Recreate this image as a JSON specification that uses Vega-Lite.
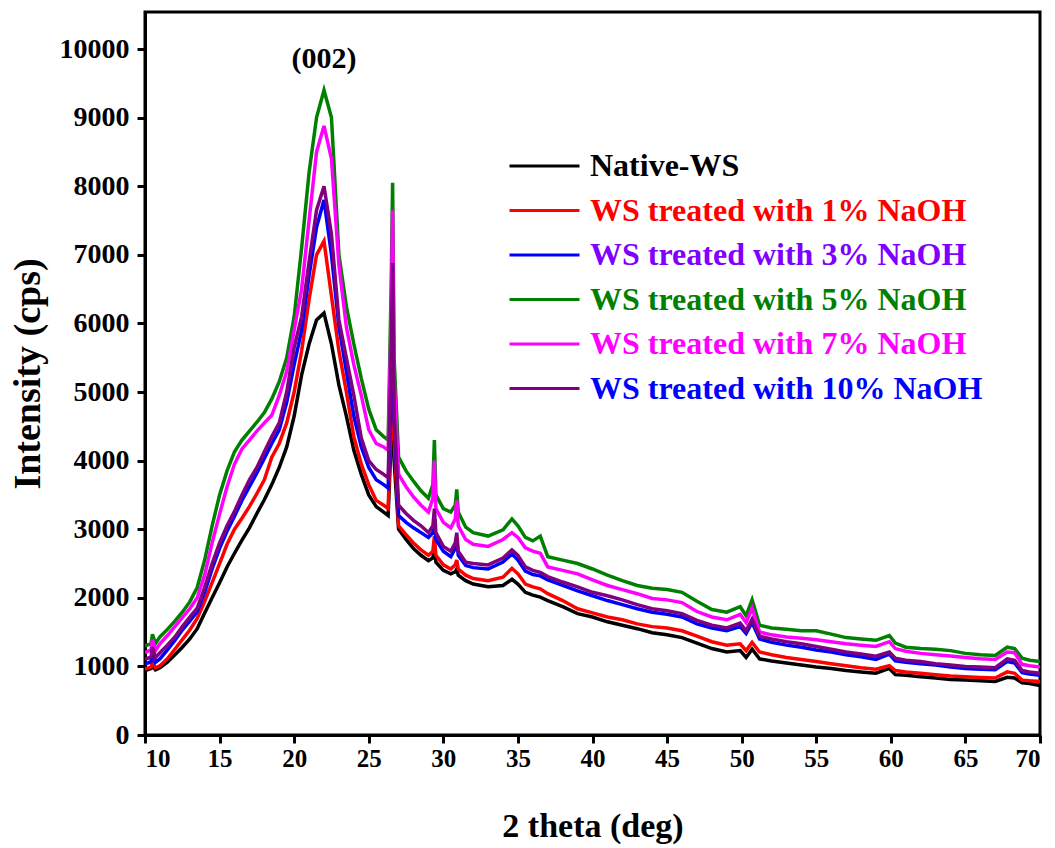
{
  "$schema": "https://vega.github.io/schema/vega-lite/v6.json",
  "width": 895,
  "height": 723,
  "autosize": {"type": "none"},
  "padding": {"left": 145, "top": 12, "right": 15, "bottom": 113},
  "background": "white",
  "config": {
    "view": {"stroke": "black", "strokeWidth": 3},
    "font": "Liberation Serif"
  },
  "layer": [
    {
      "data": {
        "values": [
          {"x": 10, "a": 940, "b": 960, "c": 1030, "d": 1300, "e": 1200, "f": 1100},
          {"x": 10.4, "a": 970, "b": 990, "c": 1070, "d": 1330, "e": 1240, "f": 1140},
          {"x": 10.5, "a": 1000, "b": 1060, "c": 1200, "d": 1470, "e": 1390, "f": 1280},
          {"x": 10.7, "a": 950, "b": 980, "c": 1060, "d": 1330, "e": 1230, "f": 1130},
          {"x": 11, "a": 980, "b": 1010, "c": 1110, "d": 1430, "e": 1330, "f": 1200},
          {"x": 11.5, "a": 1060, "b": 1110, "c": 1240, "d": 1540, "e": 1450, "f": 1310},
          {"x": 12, "a": 1170, "b": 1250, "c": 1380, "d": 1660, "e": 1580, "f": 1430},
          {"x": 12.5, "a": 1280, "b": 1390, "c": 1530, "d": 1790, "e": 1710, "f": 1580},
          {"x": 13, "a": 1400, "b": 1530, "c": 1660, "d": 1940, "e": 1840, "f": 1720},
          {"x": 13.5, "a": 1550, "b": 1700, "c": 1800, "d": 2150, "e": 2000, "f": 1850},
          {"x": 14, "a": 1780, "b": 1950, "c": 2080, "d": 2550, "e": 2330, "f": 2150},
          {"x": 14.5, "a": 2000, "b": 2220, "c": 2420, "d": 3050, "e": 2800, "f": 2500},
          {"x": 15, "a": 2220, "b": 2500, "c": 2720, "d": 3500, "e": 3220, "f": 2800},
          {"x": 15.5, "a": 2450, "b": 2780, "c": 2970, "d": 3850, "e": 3620, "f": 3050},
          {"x": 16, "a": 2650, "b": 3000, "c": 3190, "d": 4130, "e": 3950, "f": 3260},
          {"x": 16.5, "a": 2840, "b": 3160, "c": 3420, "d": 4300, "e": 4170, "f": 3500},
          {"x": 17, "a": 3020, "b": 3330, "c": 3620, "d": 4430, "e": 4300, "f": 3720},
          {"x": 17.5, "a": 3230, "b": 3520, "c": 3820, "d": 4560, "e": 4430, "f": 3900},
          {"x": 18, "a": 3430, "b": 3720, "c": 4030, "d": 4700, "e": 4550, "f": 4130},
          {"x": 18.5, "a": 3650, "b": 4050, "c": 4250, "d": 4900, "e": 4660, "f": 4350},
          {"x": 19, "a": 3900, "b": 4250, "c": 4450, "d": 5150, "e": 4950, "f": 4550},
          {"x": 19.5, "a": 4200, "b": 4550, "c": 4850, "d": 5500, "e": 5300, "f": 5000},
          {"x": 20, "a": 4650, "b": 5000, "c": 5400, "d": 6100, "e": 5900, "f": 5650},
          {"x": 20.5, "a": 5250, "b": 5600, "c": 5900, "d": 7100, "e": 6500, "f": 6100},
          {"x": 21, "a": 5700, "b": 6350, "c": 6700, "d": 8200, "e": 7500, "f": 6900},
          {"x": 21.5, "a": 6050, "b": 7000, "c": 7400, "d": 9000, "e": 8500, "f": 7650},
          {"x": 22, "a": 6150, "b": 7200, "c": 7800, "d": 9400, "e": 8880, "f": 8000},
          {"x": 22.5, "a": 5700, "b": 6400, "c": 7000, "d": 9000, "e": 8400, "f": 7300},
          {"x": 23, "a": 5100, "b": 5600, "c": 5950, "d": 7000, "e": 6850, "f": 6050},
          {"x": 23.5, "a": 4650, "b": 5000, "c": 5300, "d": 6250, "e": 5950, "f": 5500},
          {"x": 24, "a": 4150, "b": 4350, "c": 4650, "d": 5700, "e": 5400, "f": 4950},
          {"x": 24.5, "a": 3800, "b": 3950, "c": 4200, "d": 5200, "e": 4950, "f": 4330},
          {"x": 25, "a": 3500, "b": 3650, "c": 3900, "d": 4750, "e": 4450, "f": 4000},
          {"x": 25.5, "a": 3330, "b": 3420, "c": 3720, "d": 4450, "e": 4250, "f": 3870},
          {"x": 26, "a": 3250, "b": 3350, "c": 3650, "d": 4350, "e": 4200, "f": 3800},
          {"x": 26.3, "a": 3200, "b": 3300, "c": 3600, "d": 4300, "e": 4150, "f": 3750},
          {"x": 26.5, "a": 4300, "b": 4600, "c": 5000, "d": 6500, "e": 6000, "f": 5500},
          {"x": 26.6, "a": 5500, "b": 6000, "c": 6500, "d": 8050, "e": 7650, "f": 6880},
          {"x": 26.7, "a": 4000, "b": 4300, "c": 4600, "d": 5500, "e": 5200, "f": 4700},
          {"x": 27, "a": 3000, "b": 3050, "c": 3200, "d": 4050, "e": 3800, "f": 3350},
          {"x": 27.5, "a": 2850, "b": 2920, "c": 3100, "d": 3850, "e": 3620, "f": 3230},
          {"x": 28, "a": 2720, "b": 2800, "c": 3020, "d": 3700, "e": 3470, "f": 3130},
          {"x": 28.5, "a": 2620, "b": 2700, "c": 2950, "d": 3560, "e": 3350, "f": 3050},
          {"x": 29, "a": 2540, "b": 2620, "c": 2880, "d": 3450, "e": 3250, "f": 2950},
          {"x": 29.3, "a": 2580, "b": 2680, "c": 2950, "d": 3650, "e": 3450, "f": 3050},
          {"x": 29.4, "a": 2750, "b": 2900, "c": 3150, "d": 4300, "e": 4000, "f": 3300},
          {"x": 29.5, "a": 2520, "b": 2620, "c": 2850, "d": 3500, "e": 3300, "f": 2950},
          {"x": 30, "a": 2400, "b": 2480, "c": 2680, "d": 3300, "e": 3100, "f": 2750},
          {"x": 30.5, "a": 2350, "b": 2420, "c": 2600, "d": 3250, "e": 3020, "f": 2680},
          {"x": 30.8, "a": 2380, "b": 2480, "c": 2720, "d": 3350, "e": 3150, "f": 2800},
          {"x": 30.9, "a": 2420, "b": 2550, "c": 2850, "d": 3580, "e": 3420, "f": 2950},
          {"x": 31, "a": 2330, "b": 2420, "c": 2620, "d": 3250, "e": 3050, "f": 2680},
          {"x": 31.5, "a": 2250, "b": 2330, "c": 2470, "d": 3030, "e": 2850, "f": 2520},
          {"x": 32, "a": 2200, "b": 2280, "c": 2440, "d": 2950, "e": 2780, "f": 2500},
          {"x": 33, "a": 2160, "b": 2250, "c": 2420, "d": 2900, "e": 2750, "f": 2480},
          {"x": 34, "a": 2180, "b": 2300, "c": 2520, "d": 2990, "e": 2850, "f": 2580},
          {"x": 34.6, "a": 2270, "b": 2430, "c": 2640, "d": 3150, "e": 2950, "f": 2700},
          {"x": 35, "a": 2200, "b": 2350, "c": 2550, "d": 3050, "e": 2880, "f": 2620},
          {"x": 35.5, "a": 2080, "b": 2200, "c": 2390, "d": 2880, "e": 2730, "f": 2450},
          {"x": 36, "a": 2040, "b": 2160, "c": 2340, "d": 2830, "e": 2680, "f": 2400},
          {"x": 36.5, "a": 2010, "b": 2130, "c": 2320, "d": 2900, "e": 2650, "f": 2370},
          {"x": 37, "a": 1960, "b": 2060, "c": 2260, "d": 2600, "e": 2450, "f": 2310},
          {"x": 38, "a": 1870, "b": 1960, "c": 2180, "d": 2550, "e": 2400, "f": 2230},
          {"x": 39, "a": 1770, "b": 1840, "c": 2100, "d": 2500, "e": 2350, "f": 2160},
          {"x": 40, "a": 1720, "b": 1780, "c": 2030, "d": 2420, "e": 2260, "f": 2080},
          {"x": 41, "a": 1650, "b": 1720, "c": 1960, "d": 2330, "e": 2180, "f": 2030},
          {"x": 42, "a": 1600, "b": 1680, "c": 1900, "d": 2250, "e": 2120, "f": 1970},
          {"x": 43, "a": 1550, "b": 1620, "c": 1840, "d": 2180, "e": 2060, "f": 1900},
          {"x": 44, "a": 1490, "b": 1580, "c": 1790, "d": 2140, "e": 1990, "f": 1840},
          {"x": 45, "a": 1460, "b": 1560, "c": 1760, "d": 2120, "e": 1970, "f": 1810},
          {"x": 46, "a": 1420, "b": 1520, "c": 1720, "d": 2080, "e": 1930, "f": 1770},
          {"x": 47, "a": 1340, "b": 1440, "c": 1620, "d": 1950, "e": 1800, "f": 1670},
          {"x": 48, "a": 1260, "b": 1360, "c": 1560, "d": 1830, "e": 1720, "f": 1600},
          {"x": 49, "a": 1210, "b": 1310, "c": 1520, "d": 1790, "e": 1680, "f": 1560},
          {"x": 49.9, "a": 1230, "b": 1330, "c": 1580, "d": 1870, "e": 1760, "f": 1630},
          {"x": 50.3, "a": 1130, "b": 1230, "c": 1480, "d": 1740, "e": 1640, "f": 1520},
          {"x": 50.7, "a": 1250, "b": 1350, "c": 1640, "d": 1970, "e": 1850, "f": 1690},
          {"x": 51.2, "a": 1110, "b": 1210, "c": 1400, "d": 1600, "e": 1500, "f": 1440},
          {"x": 52, "a": 1080, "b": 1170, "c": 1350, "d": 1560, "e": 1460, "f": 1400},
          {"x": 53, "a": 1050, "b": 1130, "c": 1310, "d": 1540, "e": 1430, "f": 1360},
          {"x": 54, "a": 1020, "b": 1100, "c": 1280, "d": 1520, "e": 1410, "f": 1330},
          {"x": 55, "a": 990, "b": 1070, "c": 1240, "d": 1520, "e": 1390, "f": 1290},
          {"x": 56, "a": 970, "b": 1040, "c": 1210, "d": 1470, "e": 1360, "f": 1250},
          {"x": 57, "a": 940, "b": 1010, "c": 1170, "d": 1420, "e": 1330, "f": 1210},
          {"x": 58, "a": 920, "b": 980, "c": 1140, "d": 1400, "e": 1310, "f": 1180},
          {"x": 59, "a": 900, "b": 960, "c": 1100, "d": 1380, "e": 1290, "f": 1150},
          {"x": 59.9, "a": 970, "b": 1010, "c": 1180, "d": 1450, "e": 1360, "f": 1210},
          {"x": 60.3, "a": 880, "b": 940, "c": 1080, "d": 1340, "e": 1260, "f": 1120},
          {"x": 61, "a": 870, "b": 920, "c": 1060, "d": 1280, "e": 1220, "f": 1090},
          {"x": 62, "a": 850, "b": 900, "c": 1040, "d": 1260, "e": 1190, "f": 1070},
          {"x": 63, "a": 830, "b": 880, "c": 1020, "d": 1250, "e": 1170, "f": 1040},
          {"x": 64, "a": 810, "b": 860, "c": 990, "d": 1230, "e": 1150, "f": 1020},
          {"x": 65, "a": 800, "b": 850, "c": 970, "d": 1190, "e": 1130, "f": 1000},
          {"x": 66, "a": 790, "b": 840, "c": 960, "d": 1170, "e": 1110, "f": 990},
          {"x": 67, "a": 780, "b": 830, "c": 950, "d": 1160, "e": 1100, "f": 980},
          {"x": 67.8, "a": 840, "b": 920, "c": 1070, "d": 1280, "e": 1210, "f": 1110},
          {"x": 68.3, "a": 830, "b": 900, "c": 1050, "d": 1260, "e": 1200, "f": 1090},
          {"x": 68.8, "a": 760, "b": 800, "c": 910, "d": 1120, "e": 1030, "f": 940},
          {"x": 69.3, "a": 750, "b": 790, "c": 890, "d": 1090, "e": 1010, "f": 920},
          {"x": 70, "a": 720, "b": 780, "c": 870, "d": 1070, "e": 990, "f": 900}
        ]
      },
      "transform": [{"fold": ["a", "b", "c", "d", "e", "f"], "as": ["key", "val"]}],
      "mark": {"type": "line", "strokeWidth": 3.5, "clip": true},
      "encoding": {
        "x": {
          "field": "x", "type": "quantitative",
          "scale": {"domain": [10, 70], "nice": false},
          "axis": {
            "title": "2 theta (deg)",
            "values": [10, 15, 20, 25, 30, 35, 40, 45, 50, 55, 60, 65, 70],
            "grid": false,
            "domainColor": "black", "domainWidth": 3,
            "tickColor": "black", "tickWidth": 3, "tickSize": 8,
            "labelFont": "Liberation Serif", "labelFontSize": 25, "labelFontWeight": "bold", "labelColor": "black",
            "labelPadding": 3,
            "titleFont": "Liberation Serif", "titleFontSize": 34, "titleFontWeight": "bold", "titleColor": "black",
            "titlePadding": 38
          }
        },
        "y": {
          "field": "val", "type": "quantitative",
          "scale": {"domain": [0, 10540], "nice": false},
          "axis": {
            "title": "Intensity (cps)",
            "values": [0, 1000, 2000, 3000, 4000, 5000, 6000, 7000, 8000, 9000, 10000],
            "format": "d",
            "grid": false,
            "domainColor": "black", "domainWidth": 3,
            "tickColor": "black", "tickWidth": 3, "tickSize": 8,
            "labelFont": "Liberation Serif", "labelFontSize": 28, "labelFontWeight": "bold", "labelColor": "black",
            "labelPadding": 8,
            "titleFont": "Liberation Serif", "titleFontSize": 38, "titleFontWeight": "bold", "titleColor": "black",
            "titlePadding": 12
          }
        },
        "color": {
          "field": "key", "type": "nominal",
          "scale": {
            "domain": ["a", "b", "c", "d", "e", "f"],
            "range": ["#000000", "#ff0000", "#0000ff", "#008000", "#ff00ff", "#800080"]
          },
          "legend": {
            "orient": "none",
            "legendX": 363,
            "legendY": 140,
            "title": null,
            "padding": 0,
            "symbolType": "stroke",
            "symbolSize": 4900,
            "symbolStrokeWidth": 3,
            "clipHeight": 28,
            "rowPadding": 12.5,
            "labelOffset": 9,
            "labelLimit": 800,
            "labelFont": "Liberation Serif",
            "labelFontSize": 32,
            "labelFontWeight": "bold",
            "labelExpr": "datum.value === 'a' ? 'Native-WS' : datum.value === 'b' ? 'WS treated with 1% NaOH' : datum.value === 'c' ? 'WS treated with 3% NaOH' : datum.value === 'd' ? 'WS treated with 5% NaOH' : datum.value === 'e' ? 'WS treated with 7% NaOH' : 'WS treated with 10% NaOH'",
            "encode": {
              "labels": {
                "update": {
                  "fill": {"signal": "datum.value === 'a' ? '#000000' : datum.value === 'b' ? '#ff0000' : datum.value === 'c' ? '#8000ff' : datum.value === 'd' ? '#008000' : datum.value === 'e' ? '#ff00ff' : '#0000ff'"}
                }
              }
            }
          }
        }
      }
    },
    {
      "data": {"values": [{"x": 22, "y": 9850, "label": "(002)"}]},
      "mark": {"type": "text", "font": "Liberation Serif", "fontSize": 30, "fontWeight": "bold", "color": "black", "baseline": "middle", "align": "center"},
      "encoding": {
        "x": {"field": "x", "type": "quantitative"},
        "y": {"field": "y", "type": "quantitative"},
        "text": {"field": "label"}
      }
    }
  ]
}
